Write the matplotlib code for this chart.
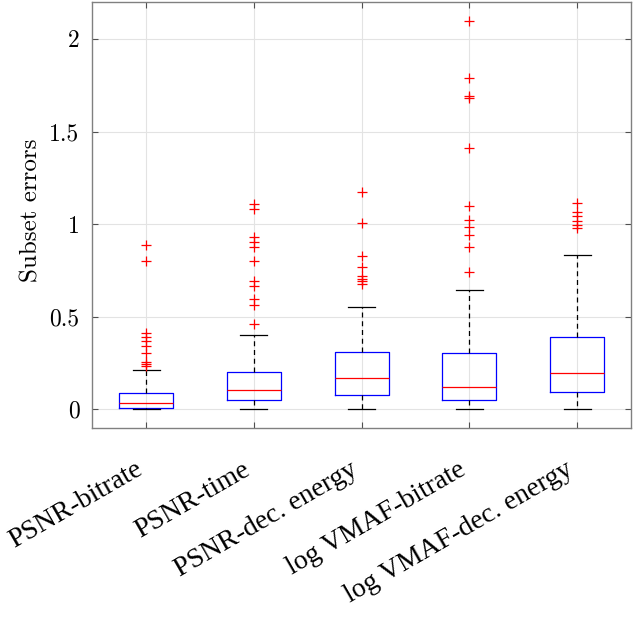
import matplotlib
matplotlib.use("Agg")
import matplotlib.pyplot as plt
from matplotlib.transforms import ScaledTranslation

categories = ["PSNR-bitrate", "PSNR-time", "PSNR-dec. energy",
              "log VMAF-bitrate", "log VMAF-dec. energy"]
whislo = [0.0, 0.0, 0.0, 0.0, 0.0]
q1 = [0.007, 0.050, 0.080, 0.049, 0.094]
med = [0.034, 0.104, 0.169, 0.120, 0.198]
q3 = [0.090, 0.200, 0.312, 0.303, 0.389]
whishi = [0.215, 0.404, 0.551, 0.647, 0.832]
fliers = [
    [0.89, 0.80, 0.414, 0.391, 0.368, 0.341, 0.306, 0.256, 0.247, 0.234],
    [1.108, 1.08, 0.931, 0.904, 0.877, 0.80, 0.694, 0.666, 0.598, 0.562, 0.463],
    [1.171, 1.004, 0.829, 0.769, 0.719, 0.706, 0.692, 0.677],
    [2.097, 1.79, 1.69, 1.68, 1.412, 1.099, 1.025, 0.982, 0.94, 0.877, 0.742],
    [1.115, 1.065, 1.045, 1.017, 0.993, 0.981],
]
yticks = [0, 0.5, 1, 1.5, 2]
yticklabels = ["0", "0.5", "1", "1.5", "2"]
positions = [1, 2, 3, 4, 5]

stats = []
for i, name in enumerate(categories):
    stats.append(dict(label=name, whislo=whislo[i], q1=q1[i], med=med[i],
                      q3=q3[i], whishi=whishi[i], fliers=fliers[i]))

fig = plt.figure(figsize=(6.4, 6.32), dpi=100)
ax = fig.add_axes([0.144, 0.323, 0.842, 0.674])

ax.grid(True, color="#e3e3e3", linewidth=0.8, zorder=0)
ax.set_axisbelow(True)

ax.bxp(stats, positions=positions, widths=0.5, capwidths=0.25,
       showfliers=True,
       boxprops=dict(color="#0000ff", linewidth=0.9),
       medianprops=dict(color="#ff0000", linewidth=0.9),
       whiskerprops=dict(color="black", linewidth=0.9, linestyle=(0, (4, 3))),
       capprops=dict(color="black", linewidth=0.9),
       flierprops=dict(marker="+", markeredgecolor="#ff0000",
                       markersize=7, markeredgewidth=0.9, linestyle="none"))

ax.set_xlim(0.5, 5.5)
ax.set_ylim(-0.1, 2.2)
ax.set_yticks(yticks)
ax.set_yticklabels(yticklabels, fontfamily="cmr10", fontsize=17)
ax.set_xticks(positions)
ax.set_xticklabels([""] * len(positions))
offset = ScaledTranslation(-12 / 100, -29 / 100, fig.dpi_scale_trans)
for p, name in zip(positions, categories):
    ax.text(p, 0, name, transform=ax.get_xaxis_transform() + offset,
            fontfamily="Liberation Serif", fontsize=20, rotation=30,
            ha="right", va="top", rotation_mode="anchor", clip_on=False)
ax.set_ylabel("Subset errors", fontfamily="cmr10", fontsize=18)
ax.yaxis.set_label_coords(-0.093, 0.511)

for s in ax.spines.values():
    s.set_color("#808080")
    s.set_linewidth(1.0)
ax.tick_params(direction="in", length=4, color="#505050", top=True, right=True,
               labelcolor="black")
ax.tick_params(axis="y", pad=9)

fig.savefig("out.png", dpi=100)
